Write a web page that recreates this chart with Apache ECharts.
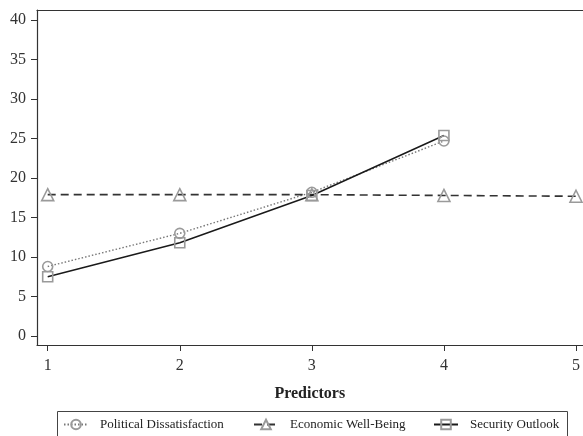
<!DOCTYPE html>
<html><head><meta charset="utf-8">
<script src="https://cdn.jsdelivr.net/npm/echarts@6/dist/echarts.min.js"></script>
<style>html,body{margin:0;padding:0;background:#fff}#c{width:583px;height:436px}</style>
</head><body><div id="c"></div>
<script>
var xValues = [1, 2, 3, 4, 5];
var xTicks = [1, 2, 3, 4, 5];
var yTicks = [0, 5, 10, 15, 20, 25, 30, 35, 40];
var political = [8.8, 13.0, 18.2, 24.7];
var economic = [17.9, 17.9, 17.9, 17.8, 17.7];
var security = [7.5, 11.8, 17.8, 25.4];
var names = ['Political Dissatisfaction', 'Economic Well-Being', 'Security Outlook'];

function pairs(vals) { return vals.map(function (v, i) { return [xValues[i], v]; }); }

var font = 'Liberation Serif';
var chart = echarts.init(document.getElementById('c'), null, {renderer: 'canvas'});
var markerGray = '#9a9a9a';
function mk(name, data, symbol, size, lineColor, lineType, lw) {
  return {
    name: name, type: 'line', data: pairs(data), symbol: symbol, symbolSize: size,
    showAllSymbol: true,
    lineStyle: {color: lineColor, type: lineType, width: lw},
    itemStyle: {color: 'rgba(255,255,255,0)', borderColor: markerGray, borderWidth: 1.6},
    emphasis: {disabled: true}, animation: false, z: 2
  };
}
function leg(name, left) {
  return {
    left: left, top: 418, padding: 0,
    itemWidth: 24, itemHeight: 12,
    textStyle: {fontFamily: font, fontSize: 13, color: '#222', padding: [0, 0, 0, 7]},
    data: [name], selectedMode: false
  };
}
chart.setOption({
  animation: false,
  grid: {left: 37, top: 10, right: 0, bottom: 91},
  graphic: [{
    type: 'rect', left: 55, top: 409,
    shape: {x: 0, y: 0, width: 510, height: 40},
    style: {fill: 'none', stroke: '#444', lineWidth: 1}
  }],
  xAxis: [{
    type: 'value', min: 0.919, max: 5.05,
    name: 'Predictors', nameLocation: 'middle', nameGap: 41,
    nameTextStyle: {fontFamily: font, fontWeight: 'bold', fontSize: 16, color: '#222'},
    axisLine: {show: true, onZero: false, lineStyle: {color: '#333', width: 1.2}},
    axisTick: {show: true, length: 6, customValues: xTicks, lineStyle: {color: '#333'}},
    axisLabel: {customValues: xTicks, fontFamily: font, fontSize: 16, color: '#333', margin: 13},
    splitLine: {show: false}
  }, {
    type: 'value', position: 'top', min: 0.919, max: 5.05,
    axisLine: {show: true, onZero: false, lineStyle: {color: '#333', width: 1.2}},
    axisTick: {show: false}, axisLabel: {show: false}, splitLine: {show: false}
  }],
  yAxis: {
    type: 'value', min: -1.15, max: 41.3,
    axisLine: {show: true, onZero: false, lineStyle: {color: '#333', width: 1.2}},
    axisTick: {show: true, length: 6, customValues: yTicks, lineStyle: {color: '#333'}},
    axisLabel: {customValues: yTicks, fontFamily: font, fontSize: 16, color: '#333', margin: 11},
    splitLine: {show: false}
  },
  legend: [leg(names[0], 63), leg(names[1], 253), leg(names[2], 433)],
  series: [
    mk(names[0], political, 'circle', 10, '#777', [1.5, 2], 1.4),
    mk(names[1], economic, 'triangle', 12, '#333', [8, 5], 1.6),
    mk(names[2], security, 'rect', 10, '#1a1a1a', 'solid', 1.5)
  ]
});
</script></body></html>
